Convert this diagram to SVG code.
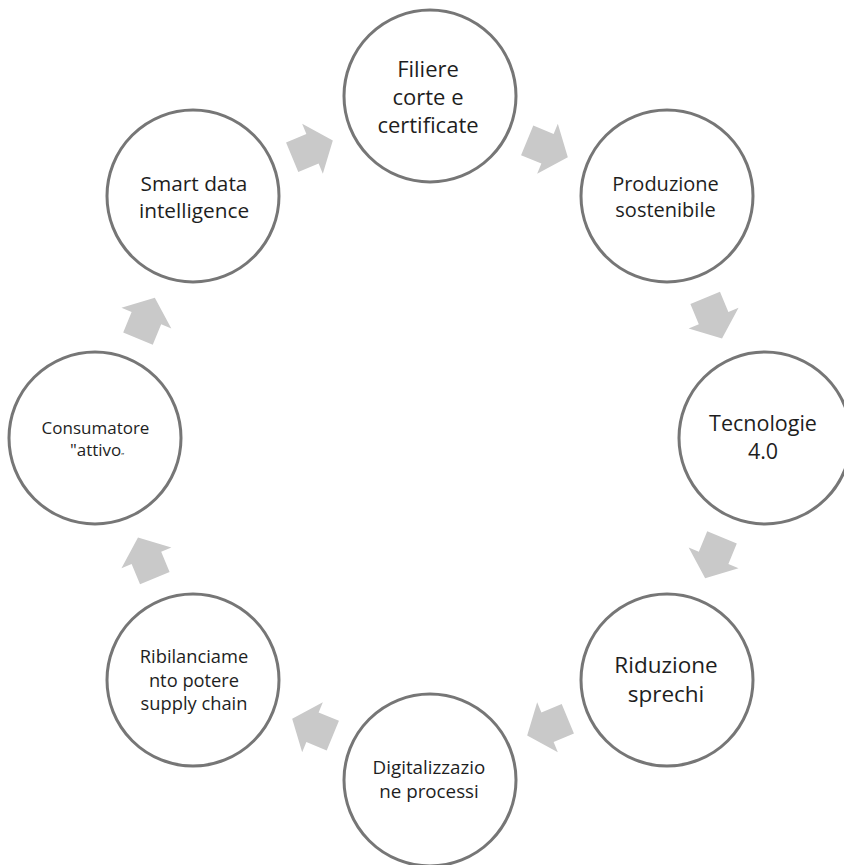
<svg xmlns="http://www.w3.org/2000/svg" width="844" height="865" viewBox="0 0 844 865">
<style>
.node circle{fill:#ffffff;stroke:#767676;stroke-width:3}
.node text{font-family:"Open Sans","Noto Sans","DejaVu Sans",sans-serif;fill:#1e1e1e;text-anchor:middle}
.arrow{fill:#c9c9c9}
</style>
<defs>
<path id="arr" d="M-22,-16 L0,-16 L0,-27 L22,0 L0,27 L0,16 L-22,16 Z"/>
</defs>
<rect width="844" height="865" fill="#ffffff"/>
<g id="connectors">
<use href="#arr" class="arrow" transform="translate(312.5,148.8) rotate(-22.5)"/>
<use href="#arr" class="arrow" transform="translate(547.5,148.8) rotate(22.5)"/>
<use href="#arr" class="arrow" transform="translate(713.6,318.2) rotate(67.5)"/>
<use href="#arr" class="arrow" transform="translate(713.6,557.8) rotate(112.5)"/>
<use href="#arr" class="arrow" transform="translate(547.5,727.2) rotate(157.5)"/>
<use href="#arr" class="arrow" transform="translate(312.5,727.2) rotate(202.5)"/>
<use href="#arr" class="arrow" transform="translate(146.4,557.8) rotate(247.5)"/>
<use href="#arr" class="arrow" transform="translate(146.4,318.2) rotate(292.5)"/>
</g>
<g id="n1" class="node">
<circle cx="430" cy="96" r="86"/>
<text font-size="22"><tspan x="428" y="77">Filiere</tspan><tspan x="428" y="105">corte e</tspan><tspan x="428" y="133">certificate</tspan></text>
</g>
<g id="n2" class="node">
<circle cx="667" cy="196" r="86"/>
<text font-size="20"><tspan x="665.5" y="191">Produzione</tspan><tspan x="665.5" y="217">sostenibile</tspan></text>
</g>
<g id="n3" class="node">
<circle cx="765" cy="438" r="86"/>
<text font-size="21.5" x="763" y="431">Tecnologie</text>
<text font-size="21.5" x="763" y="459">4.0</text>
</g>
<g id="n4" class="node">
<circle cx="667" cy="680" r="86"/>
<text font-size="22.5"><tspan x="666" y="673">Riduzione</tspan><tspan x="666" y="702">sprechi</tspan></text>
</g>
<g id="n5" class="node">
<circle cx="430" cy="780" r="86"/>
<text font-size="18.8"><tspan x="429" y="774">Digitalizzazio</tspan><tspan x="429" y="798">ne processi</tspan></text>
</g>
<g id="n6" class="node">
<circle cx="193" cy="680" r="86"/>
<text font-size="18.3"><tspan x="194" y="663">Ribilanciame</tspan><tspan x="194" y="687">nto potere</tspan><tspan x="194" y="710">supply chain</tspan></text>
</g>
<g id="n7" class="node">
<circle cx="95" cy="438" r="86"/>
<text font-size="17"><tspan x="95.5" y="434">Consumatore</tspan><tspan x="97" y="456">"attivo<tspan font-size="8" dy="2">”</tspan></tspan></text>
</g>
<g id="n8" class="node">
<circle cx="193" cy="196" r="86"/>
<text font-size="20.8"><tspan x="194" y="191">Smart data</tspan><tspan x="194" y="218">intelligence</tspan></text>
</g>
</svg>
